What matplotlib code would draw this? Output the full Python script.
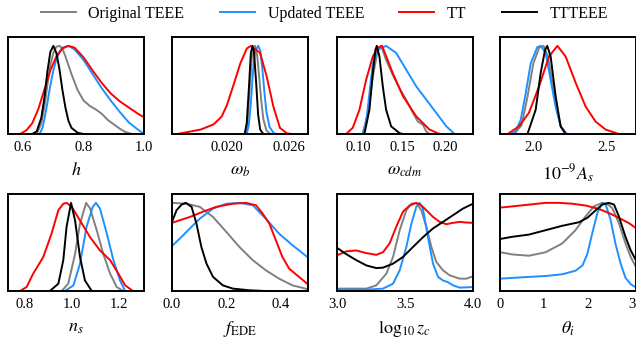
import matplotlib
matplotlib.use('Agg')
import matplotlib.pyplot as plt

plt.rcParams['font.family'] = ['Liberation Serif', 'DejaVu Serif']
plt.rcParams['mathtext.fontset'] = 'stix'

# -- Posteriores normalizadas (pico = 1), leídas del gráfico
# h
h_orig_x = [0.645, 0.66, 0.67, 0.68, 0.69, 0.70, 0.71, 0.72, 0.73, 0.74, 0.76, 0.78, 0.80, 0.82, 0.84, 0.86, 0.88, 0.90, 0.92, 0.94, 0.96]
h_orig_y = [0.0, 0.12, 0.30, 0.55, 0.78, 0.92, 0.99, 1.0, 0.97, 0.88, 0.68, 0.50, 0.38, 0.32, 0.28, 0.23, 0.16, 0.11, 0.06, 0.02, 0.0]
h_upd_x = [0.655, 0.665, 0.675, 0.69, 0.70, 0.71, 0.72, 0.73, 0.75, 0.77, 0.80, 0.83, 0.86, 0.89, 0.92, 0.95, 0.98, 1.0]
h_upd_y = [0.0, 0.08, 0.25, 0.55, 0.72, 0.85, 0.93, 0.98, 1.0, 0.96, 0.84, 0.68, 0.52, 0.38, 0.25, 0.13, 0.05, 0.0]
h_tt_x = [0.59, 0.61, 0.63, 0.65, 0.67, 0.69, 0.71, 0.73, 0.75, 0.77, 0.80, 0.83, 0.86, 0.89, 0.92, 0.95, 0.98, 1.0]
h_tt_y = [0.0, 0.04, 0.12, 0.28, 0.50, 0.72, 0.88, 0.97, 1.0, 0.98, 0.87, 0.72, 0.58, 0.46, 0.37, 0.30, 0.23, 0.19]
h_all_x = [0.63, 0.645, 0.66, 0.67, 0.68, 0.69, 0.70, 0.71, 0.72, 0.73, 0.74, 0.75, 0.76, 0.78, 0.80]
h_all_y = [0.0, 0.03, 0.18, 0.40, 0.70, 0.93, 1.0, 0.92, 0.74, 0.50, 0.30, 0.15, 0.07, 0.015, 0.0]

# omega_b
wb_orig_x = [0.0218, 0.0220, 0.0222, 0.0224, 0.0227, 0.0229, 0.0231, 0.0233, 0.0235, 0.0238, 0.0242]
wb_orig_y = [0.0, 0.15, 0.55, 0.88, 1.0, 0.90, 0.65, 0.38, 0.17, 0.04, 0.0]
wb_upd_x = [0.0219, 0.0221, 0.0223, 0.0225, 0.0227, 0.0230, 0.0232, 0.0234, 0.0236, 0.0238, 0.0241, 0.0245, 0.0248]
wb_upd_y = [0.0, 0.10, 0.35, 0.70, 0.93, 1.0, 0.95, 0.75, 0.48, 0.25, 0.08, 0.01, 0.0]
wb_tt_x = [0.0152, 0.01745, 0.01872, 0.0195, 0.0200, 0.02064, 0.02128, 0.02191, 0.0223, 0.02319, 0.02383, 0.02447, 0.0251, 0.02574, 0.0262]
wb_tt_y = [0.0, 0.05, 0.11, 0.20, 0.33, 0.56, 0.80, 0.97, 1.0, 0.92, 0.65, 0.31, 0.07, 0.01, 0.0]
wb_all_x = [0.0217, 0.0219, 0.0221, 0.0223, 0.02247, 0.0226, 0.0228, 0.0230, 0.0232, 0.0235]
wb_all_y = [0.0, 0.12, 0.50, 0.92, 1.0, 0.93, 0.60, 0.22, 0.05, 0.0]

# omega_cdm
wc_orig_x = [0.1046, 0.1104, 0.1162, 0.1219, 0.1258, 0.1315, 0.1392, 0.1469, 0.1546, 0.1623, 0.1681, 0.1738, 0.1777, 0.1815]
wc_orig_y = [0.0, 0.24, 0.65, 0.955, 1.0, 0.84, 0.67, 0.52, 0.39, 0.24, 0.14, 0.105, 0.03, 0.0]
wc_upd_x = [0.1046, 0.1085, 0.1123, 0.1162, 0.1219, 0.1315, 0.1431, 0.1546, 0.1662, 0.1777, 0.1892, 0.2008, 0.2104]
wc_upd_y = [0.0, 0.125, 0.46, 0.80, 0.955, 1.0, 0.92, 0.73, 0.54, 0.39, 0.24, 0.087, 0.0]
wc_tt_x = [0.0854, 0.0931, 0.1008, 0.1085, 0.1162, 0.1219, 0.1269, 0.1392, 0.1508, 0.1662, 0.1815, 0.1931]
wc_tt_y = [0.0, 0.07, 0.275, 0.615, 0.88, 0.98, 1.0, 0.69, 0.43, 0.20, 0.05, 0.0]
wc_all_x = [0.1065, 0.1123, 0.1162, 0.1192, 0.1208, 0.1238, 0.1277, 0.1315, 0.1373, 0.1469, 0.1508]
wc_all_y = [0.0, 0.275, 0.69, 0.955, 1.0, 0.88, 0.54, 0.275, 0.087, 0.01, 0.0]

# 10^-9 A_s
As_orig_x = [1.87, 1.92, 1.96, 2.00, 2.04, 2.07, 2.10, 2.13, 2.16, 2.19, 2.23]
As_orig_y = [0.0, 0.10, 0.42, 0.80, 0.98, 1.0, 0.88, 0.58, 0.27, 0.08, 0.0]
As_upd_x = [1.845, 1.880, 1.914, 1.948, 1.982, 2.027, 2.05, 2.084, 2.118, 2.152, 2.186, 2.22]
As_upd_y = [0.0, 0.03, 0.16, 0.46, 0.80, 0.985, 1.0, 0.92, 0.615, 0.31, 0.09, 0.01]
As_tt_x = [1.834, 1.902, 1.97, 2.039, 2.107, 2.164, 2.22, 2.289, 2.357, 2.425, 2.493, 2.584]
As_tt_y = [0.01, 0.087, 0.24, 0.54, 0.88, 1.0, 0.88, 0.58, 0.31, 0.14, 0.05, 0.0]
As_all_x = [1.96, 2.016, 2.05, 2.08, 2.095, 2.118, 2.152, 2.186, 2.22]
As_all_y = [0.0, 0.275, 0.69, 0.955, 1.0, 0.88, 0.43, 0.087, 0.0]

# n_s
ns_orig_x = [0.956, 0.984, 1.013, 1.034, 1.06, 1.077, 1.105, 1.133, 1.162, 1.19, 1.218]
ns_orig_y = [0.0, 0.083, 0.42, 0.765, 1.0, 0.935, 0.69, 0.42, 0.197, 0.045, 0.0]
ns_upd_x = [0.97, 1.006, 1.034, 1.062, 1.088, 1.102, 1.119, 1.148, 1.176, 1.204, 1.226]
ns_upd_y = [0.0, 0.064, 0.31, 0.73, 0.955, 1.0, 0.935, 0.65, 0.35, 0.12, 0.0]
ns_tt_x = [0.779, 0.807, 0.835, 0.878, 0.913, 0.942, 0.963, 0.977, 0.999, 1.034, 1.077, 1.119, 1.162, 1.197, 1.226, 1.254]
ns_tt_y = [0.0, 0.045, 0.197, 0.386, 0.65, 0.917, 0.99, 1.0, 0.955, 0.80, 0.61, 0.46, 0.35, 0.197, 0.064, 0.01]
ns_all_x = [0.906, 0.942, 0.963, 0.977, 0.996, 1.013, 1.034, 1.055, 1.084]
ns_all_y = [0.0, 0.083, 0.35, 0.73, 1.0, 0.80, 0.386, 0.12, 0.0]

# f_EDE
fe_orig_x = [0.0, 0.054, 0.102, 0.151, 0.2, 0.248, 0.297, 0.345, 0.394, 0.443, 0.5]
fe_orig_y = [1.0, 0.99, 0.955, 0.84, 0.67, 0.50, 0.35, 0.235, 0.14, 0.064, 0.02]
fe_upd_x = [0.0, 0.029, 0.066, 0.102, 0.151, 0.2, 0.248, 0.297, 0.345, 0.394, 0.443, 0.5]
fe_upd_y = [0.51, 0.595, 0.71, 0.82, 0.935, 0.99, 1.0, 0.973, 0.82, 0.65, 0.52, 0.38]
fe_tt_x = [0.0, 0.029, 0.066, 0.114, 0.163, 0.224, 0.272, 0.309, 0.333, 0.358, 0.382, 0.406, 0.431, 0.467, 0.5]
fe_tt_y = [0.773, 0.803, 0.84, 0.90, 0.955, 0.99, 1.0, 0.973, 0.88, 0.765, 0.576, 0.386, 0.254, 0.16, 0.075]
fe_all_x = [0.0, 0.017, 0.035, 0.051, 0.072, 0.09, 0.108, 0.127, 0.151, 0.187, 0.224, 0.285, 0.345, 0.5]
fe_all_y = [0.784, 0.917, 0.98, 1.0, 0.955, 0.765, 0.50, 0.31, 0.16, 0.064, 0.027, 0.008, 0.0, 0.0]

# log10 z_c
zc_orig_x = [3.0, 3.093, 3.216, 3.289, 3.363, 3.412, 3.461, 3.51, 3.547, 3.583, 3.62, 3.657, 3.694, 3.73, 3.779, 3.828, 3.902, 3.951, 4.0]
zc_orig_y = [0.027, 0.027, 0.027, 0.064, 0.197, 0.386, 0.69, 0.917, 0.99, 1.0, 0.917, 0.727, 0.50, 0.33, 0.235, 0.178, 0.14, 0.14, 0.167]
zc_upd_x = [3.0, 3.216, 3.338, 3.412, 3.461, 3.51, 3.547, 3.583, 3.608, 3.632, 3.669, 3.706, 3.743, 3.779, 3.816, 3.853, 3.902, 4.0]
zc_upd_y = [0.019, 0.015, 0.027, 0.083, 0.235, 0.50, 0.765, 0.955, 1.0, 0.935, 0.61, 0.31, 0.16, 0.12, 0.10, 0.064, 0.038, 0.045]
zc_tt_x = [3.0, 3.069, 3.142, 3.216, 3.289, 3.338, 3.387, 3.436, 3.485, 3.534, 3.583, 3.62, 3.657, 3.706, 3.755, 3.804, 3.853, 3.902, 3.951, 4.0]
zc_tt_y = [0.405, 0.45, 0.46, 0.43, 0.41, 0.44, 0.54, 0.73, 0.90, 0.97, 1.0, 0.97, 0.917, 0.84, 0.784, 0.758, 0.773, 0.784, 0.777, 0.773]
zc_all_x = [3.0, 3.069, 3.142, 3.216, 3.289, 3.338, 3.412, 3.485, 3.559, 3.632, 3.706, 3.779, 3.853, 3.926, 4.0]
zc_all_y = [0.49, 0.417, 0.35, 0.29, 0.26, 0.265, 0.31, 0.386, 0.50, 0.61, 0.71, 0.784, 0.86, 0.935, 0.99]

# theta_i
th_orig_x = [0.0, 0.28, 0.66, 1.04, 1.42, 1.72, 1.95, 2.14, 2.33, 2.44, 2.56, 2.71, 2.86, 2.98, 3.08, 3.14]
th_orig_y = [0.44, 0.415, 0.40, 0.44, 0.54, 0.69, 0.846, 0.96, 1.0, 0.99, 0.94, 0.77, 0.54, 0.385, 0.29, 0.25]
th_upd_x = [0.0, 0.66, 1.04, 1.42, 1.72, 1.88, 1.99, 2.10, 2.22, 2.33, 2.41, 2.52, 2.63, 2.75, 2.86, 2.98, 3.08, 3.14]
th_upd_y = [0.14, 0.16, 0.17, 0.19, 0.23, 0.29, 0.42, 0.65, 0.885, 1.0, 0.98, 0.81, 0.54, 0.31, 0.15, 0.077, 0.046, 0.04]
th_tt_x = [0.0, 0.28, 0.66, 1.04, 1.34, 1.65, 1.95, 2.26, 2.48, 2.71, 2.94, 3.08, 3.14]
th_tt_y = [0.946, 0.96, 0.98, 1.0, 1.0, 0.99, 0.97, 0.93, 0.885, 0.83, 0.77, 0.72, 0.70]
th_all_x = [0.0, 0.28, 0.66, 1.04, 1.42, 1.8, 1.99, 2.18, 2.33, 2.48, 2.6, 2.71, 2.86, 2.98, 3.08, 3.14]
th_all_y = [0.59, 0.615, 0.64, 0.69, 0.74, 0.78, 0.83, 0.915, 0.98, 1.0, 0.98, 0.846, 0.615, 0.46, 0.365, 0.33]

series = ['Original TEEE', 'Updated TEEE', 'TT', 'TTTEEE']
colores = ['grey', 'dodgerblue', 'red', 'black']

paneles = [
    (r'$h$', (0.55, 1.0), [0.6, 0.8, 1.0], ['0.6', '0.8', '1.0'],
     [(h_orig_x, h_orig_y), (h_upd_x, h_upd_y), (h_tt_x, h_tt_y), (h_all_x, h_all_y)]),
    (r'$\omega_b$', (0.0147, 0.0278), [0.020, 0.026], ['0.020', '0.026'],
     [(wb_orig_x, wb_orig_y), (wb_upd_x, wb_upd_y), (wb_tt_x, wb_tt_y), (wb_all_x, wb_all_y)]),
    (r'$\omega_{cdm}$', (0.075, 0.2315), [0.10, 0.15, 0.20], ['0.10', '0.15', '0.20'],
     [(wc_orig_x, wc_orig_y), (wc_upd_x, wc_upd_y), (wc_tt_x, wc_tt_y), (wc_all_x, wc_all_y)]),
    (r'$10^{-9}A_s$', (1.773, 2.70), [2.0, 2.5], ['2.0', '2.5'],
     [(As_orig_x, As_orig_y), (As_upd_x, As_upd_y), (As_tt_x, As_tt_y), (As_all_x, As_all_y)]),
    (r'$n_s$', (0.728, 1.306), [0.8, 1.0, 1.2], ['0.8', '1.0', '1.2'],
     [(ns_orig_x, ns_orig_y), (ns_upd_x, ns_upd_y), (ns_tt_x, ns_tt_y), (ns_all_x, ns_all_y)]),
    (r'$f_{\rm EDE}$', (0.0, 0.5), [0.0, 0.2, 0.4], ['0.0', '0.2', '0.4'],
     [(fe_orig_x, fe_orig_y), (fe_upd_x, fe_upd_y), (fe_tt_x, fe_tt_y), (fe_all_x, fe_all_y)]),
    (r'$\log_{10} z_c$', (3.0, 4.0), [3.0, 3.5, 4.0], ['3.0', '3.5', '4.0'],
     [(zc_orig_x, zc_orig_y), (zc_upd_x, zc_upd_y), (zc_tt_x, zc_tt_y), (zc_all_x, zc_all_y)]),
    (r'$\theta_i$', (0.0, 3.1), [0, 1, 2, 3], ['0', '1', '2', '3'],
     [(th_orig_x, th_orig_y), (th_upd_x, th_upd_y), (th_tt_x, th_tt_y), (th_all_x, th_all_y)]),
]

fig = plt.figure(figsize=(6.36, 3.39), dpi=100)
izq = [0.0126, 0.2704, 0.5299, 0.7862]
abajo = [0.6047, 0.1416]

for i, (label, lim, ticks, ticklabels, curvas) in enumerate(paneles):
    ax = fig.add_axes([izq[i % 4], abajo[i // 4], 0.2138, 0.286])
    for (x, y), c, s in zip(curvas, colores, series):
        ax.plot(x, y, color=c, lw=1.4, label=s)
    ax.set_xlim(*lim)
    ax.set_ylim(0, 1.1)
    ax.set_yticks([])
    ax.set_xticks(ticks)
    ax.set_xticklabels(ticklabels, fontsize=10.5)
    ax.tick_params(axis='x', length=0, pad=5)
    ax.set_xlabel(label, fontsize=13, labelpad=6)
    for sp in ax.spines.values():
        sp.set_linewidth(1.4)
    if i == 0:
        handles, labels = ax.get_legend_handles_labels()

fig.legend(handles, labels, loc='upper center', bbox_to_anchor=(0.51, 1.025), ncol=4,
           frameon=False, fontsize=11.5, handlelength=2.2, columnspacing=2.2)

fig.savefig('out.png', dpi=100)
